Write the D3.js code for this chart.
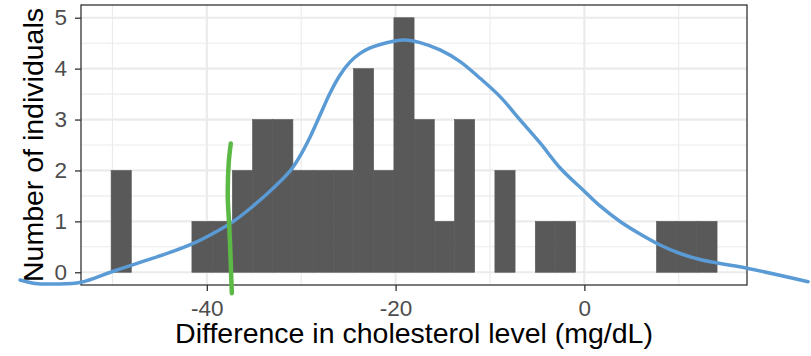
<!DOCTYPE html>
<html>
<head>
<meta charset="utf-8">
<script src="https://cdn.jsdelivr.net/npm/d3@7"></script>
<style>
  html, body { margin: 0; padding: 0; background: #ffffff; }
  svg { display: block; font-family: "Liberation Sans", Arial, Helvetica, sans-serif; }
</style>
</head>
<body>
<svg id="chart" width="811" height="356"></svg>
<script>
// ---------- data ----------
const binStart = -50.14;          // left edge of the first bin (mg/dL)
const binWidth = 2.14;            // bin width (mg/dL)
const counts = [2,0,0,0,1,1,2,3,3,2,2,2,4,2,5,3,1,3,0,2,0,1,1,0,0,0,0,1,1,1];

const xTicks = [-40, -20, 0];
const xMinorTicks = [-50, -30, -10, 10];
const yTicks = [0, 1, 2, 3, 4, 5];
const yMinorTicks = [0.5, 1.5, 2.5, 3.5, 4.5];

// hand-drawn density-like curve (data units)
const curveX = [-59.78,-58.19,-56.07,-53.32,-50.14,-47.07,-43.89,-41.56,-39.44,-37.22,-35.41,-33.29,-31.17,-30.12,-29.06,-28.00,-26.94,-25.88,-24.82,-23.76,-22.70,-21.64,-20.37,-19.00,-17.41,-15.29,-13.17,-11.05,-8.93,-6.81,-4.69,-2.57,-0.03,1.66,3.78,5.90,8.02,10.14,12.26,14.38,17.24,23.70];
const curveY = [-0.151,-0.220,-0.230,-0.196,0.006,0.193,0.389,0.556,0.752,0.994,1.253,1.597,1.990,2.285,2.658,3.090,3.523,3.876,4.132,4.299,4.407,4.475,4.534,4.564,4.511,4.367,4.138,3.811,3.450,2.992,2.540,2.049,1.597,1.303,0.998,0.752,0.536,0.369,0.251,0.173,0.079,-0.185];

// hand-drawn green vertical marker (data units)
const markX = [-37.46,-37.68,-37.78,-37.60,-37.35];
const markY = [2.53,2.15,1.49,0.83,-0.41];

const xTitle = "Difference in cholesterol level (mg/dL)";
const yTitle = "Number of individuals";

// ---------- layout ----------
const panel = { left: 81, right: 747, top: 5, bottom: 285 };
const svg = d3.select("#chart");

const x = d3.scaleLinear().domain([-53.33, 17.23]).range([panel.left, panel.right]);
const y = d3.scaleLinear().domain([-0.25, 5.25]).range([panel.bottom, panel.top]);

// panel background
svg.append("rect")
  .attr("x", panel.left).attr("y", panel.top)
  .attr("width", panel.right - panel.left).attr("height", panel.bottom - panel.top)
  .attr("fill", "#ffffff");

const grid = svg.append("g");
// minor grid
grid.selectAll(".ymin").data(yMinorTicks).enter().append("line")
  .attr("x1", panel.left).attr("x2", panel.right)
  .attr("y1", d => y(d)).attr("y2", d => y(d))
  .attr("stroke", "#EBEBEB").attr("stroke-width", 1.1);
grid.selectAll(".xmin").data(xMinorTicks).enter().append("line")
  .attr("y1", panel.top).attr("y2", panel.bottom)
  .attr("x1", d => x(d)).attr("x2", d => x(d))
  .attr("stroke", "#EBEBEB").attr("stroke-width", 1.1);
// major grid
grid.selectAll(".ymaj").data(yTicks).enter().append("line")
  .attr("x1", panel.left).attr("x2", panel.right)
  .attr("y1", d => y(d)).attr("y2", d => y(d))
  .attr("stroke", "#EBEBEB").attr("stroke-width", 2.2);
grid.selectAll(".xmaj").data(xTicks).enter().append("line")
  .attr("y1", panel.top).attr("y2", panel.bottom)
  .attr("x1", d => x(d)).attr("x2", d => x(d))
  .attr("stroke", "#EBEBEB").attr("stroke-width", 2.2);

// bars
const bins = counts.map((c, i) => ({ x0: binStart + i * binWidth, x1: binStart + (i + 1) * binWidth, n: c }));
svg.append("g").selectAll("rect").data(bins.filter(b => b.n > 0)).enter().append("rect")
  .attr("x", d => x(d.x0))
  .attr("width", d => x(d.x1) - x(d.x0))
  .attr("y", d => y(d.n))
  .attr("height", d => y(0) - y(d.n))
  .attr("fill", "#595959")
  .attr("stroke", "#595959").attr("stroke-width", 0.6);

// panel border
svg.append("rect")
  .attr("x", panel.left).attr("y", panel.top)
  .attr("width", panel.right - panel.left).attr("height", panel.bottom - panel.top)
  .attr("fill", "none").attr("stroke", "#333333").attr("stroke-width", 1.3);

// axes
const xAxis = svg.append("g")
  .attr("transform", `translate(0,${panel.bottom})`)
  .call(d3.axisBottom(x).tickValues(xTicks).tickFormat(d3.format("d")).tickSize(6).tickPadding(9));
const yAxis = svg.append("g")
  .attr("transform", `translate(${panel.left},0)`)
  .call(d3.axisLeft(y).tickValues(yTicks).tickFormat(d3.format("d")).tickSize(6).tickPadding(8));
[xAxis, yAxis].forEach(a => {
  a.select(".domain").remove();
  a.selectAll(".tick line").attr("stroke", "#333333").attr("stroke-width", 1.3);
  a.selectAll(".tick text").attr("fill", "#4D4D4D").attr("font-size", 22.5)
    .attr("font-family", "'Liberation Sans', Arial, Helvetica, sans-serif");
});
xAxis.selectAll(".tick text").text(d => d < 0 ? "-" + Math.abs(d) : String(d));

// titles
svg.append("text")
  .attr("x", (panel.left + panel.right) / 2).attr("y", 343)
  .attr("text-anchor", "middle").attr("font-size", 28.5).attr("fill", "#000000")
  .text(xTitle);
svg.append("text")
  .attr("transform", `translate(43,${(panel.top + panel.bottom) / 2}) rotate(-90)`)
  .attr("text-anchor", "middle").attr("font-size", 28.5).attr("fill", "#000000")
  .text(yTitle);

// blue curve
const line = d3.line().x(d => x(d[0])).y(d => y(d[1])).curve(d3.curveCatmullRom.alpha(0.5));
svg.append("path")
  .datum(curveX.map((v, i) => [v, curveY[i]]))
  .attr("d", line)
  .attr("fill", "none").attr("stroke", "#5B9BD5").attr("stroke-width", 3.5)
  .attr("stroke-linecap", "round").attr("stroke-linejoin", "round");

// green marker
svg.append("path")
  .datum(markX.map((v, i) => [v, markY[i]]))
  .attr("d", line)
  .attr("fill", "none").attr("stroke", "#5DB946").attr("stroke-width", 4.5)
  .attr("stroke-linecap", "round").attr("stroke-linejoin", "round");
</script>
</body>
</html>
